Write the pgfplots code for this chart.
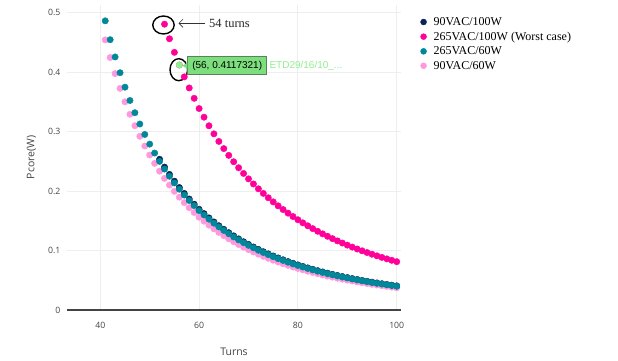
\documentclass[border=0pt]{standalone}
\usepackage{pgfplots}
\pgfplotsset{compat=1.18}
\usepackage{fontspec}
\usetikzlibrary{arrows.meta}
\newfontfamily\opensans{Open Sans}
\newfontfamily\lserif{Liberation Serif}
\newfontfamily\lsans{Liberation Sans}
\definecolor{navyc}{RGB}{11,36,85}
\definecolor{magc}{RGB}{255,0,153}
\definecolor{tealc}{RGB}{0,135,154}
\definecolor{lpinkc}{RGB}{255,153,221}
\definecolor{hoverg}{RGB}{144,238,144}
\definecolor{tipfill}{RGB}{125,222,125}
\definecolor{tipdraw}{RGB}{90,130,90}
\definecolor{tickgray}{RGB}{68,68,68}
\definecolor{gridc}{RGB}{238,238,238}
\begin{document}
\begin{tikzpicture}
\useasboundingbox (-67pt,-50pt) rectangle (551pt,310pt);
\begin{axis}[
  at={(0pt,0pt)}, anchor=south west,
  scale only axis, width=334pt, height=305pt,
  xmin=33.26, xmax=100.87, ymin=0, ymax=0.5126,
  xtick={40,60,80,100}, xticklabels={40,60,80,100},
  ytick={0,0.1,0.2,0.3,0.4,0.5}, yticklabels={0,0.1,0.2,0.3,0.4,0.5},
  major tick length=0pt,
  grid=major, major grid style={gridc, line width=0.9pt},
  axis line style={draw=none},
  tick label style={font=\opensans\fontsize{8.7}{10}\selectfont, text=tickgray},
  xticklabel style={yshift=-9pt},
  yticklabel style={xshift=-3pt},
  xlabel={Turns}, ylabel={Pcore(W)},
  label style={font=\opensans\fontsize{10.5}{12}\selectfont, text=tickgray},
  xlabel style={at={(axis description cs:0.5,-0.1377)}, anchor=center},
  ylabel style={at={(axis description cs:-0.1063,0.5)}, anchor=center},
  legend style={at={(axis description cs:1.058,0.967)}, anchor=north west,
    draw=none, fill=none, font=\lserif\fontsize{12}{14}\selectfont,
    inner sep=0pt, row sep=1pt, column sep=5pt, cells={anchor=west}},
  legend cell align=left,
  clip=false,
]
\draw[tickgray, line width=1.2pt] (rel axis cs:0,0) -- (rel axis cs:1,0);
% 90VAC/60W
\addplot[forget plot, only marks, mark=*, mark size=3.2pt, color=lpinkc] coordinates {
(41,0.45400)(42,0.42437)(43,0.39732)(44,0.37255)(45,0.34983)(46,0.32895)(47,0.30972)(48,0.29199)(49,0.27561)(50,0.26046)
(51,0.24641)(52,0.23337)(53,0.22125)(54,0.20996)(55,0.19945)(56,0.18963)(57,0.18047)(58,0.17189)(59,0.16386)(60,0.15595)
(61,0.14925)(62,0.14261)(63,0.13636)(64,0.13048)(65,0.12494)(66,0.11971)(67,0.11477)(68,0.11011)(69,0.10570)(70,0.10152)
(71,0.09757)(72,0.09382)(73,0.09027)(74,0.08690)(75,0.08369)(76,0.08064)(77,0.07775)(78,0.07499)(79,0.07236)(80,0.06986)
(81,0.06747)(82,0.06519)(83,0.06301)(84,0.06093)(85,0.05895)(86,0.05705)(87,0.05523)(88,0.05349)(89,0.05183)(90,0.05023)
(91,0.04870)(92,0.04723)(93,0.04582)(94,0.04447)(95,0.04317)(96,0.04193)(97,0.04073)(98,0.03957)(99,0.03847)(100,0.03740)};
% 90VAC/100W
\addplot[forget plot, only marks, mark=*, mark size=3.2pt, color=navyc] coordinates {
(52,0.25330)(53,0.24015)(54,0.22790)(55,0.21649)(56,0.20584)(57,0.19588)(58,0.18657)(59,0.17786)(60,0.16927)
(61,0.16200)(62,0.15479)(63,0.14801)(64,0.14163)(65,0.13561)(66,0.12994)(67,0.12458)(68,0.11952)(69,0.11473)(70,0.11020)
(71,0.10591)(72,0.10184)(73,0.09798)(74,0.09432)(75,0.09084)(76,0.08753)(77,0.08439)(78,0.08139)(79,0.07854)(80,0.07582)
(81,0.07323)(82,0.07076)(83,0.06840)(84,0.06614)(85,0.06399)(86,0.06192)(87,0.05995)(88,0.05806)(89,0.05625)(90,0.05452)
(91,0.05286)(92,0.05127)(93,0.04974)(94,0.04827)(95,0.04686)(96,0.04551)(97,0.04421)(98,0.04296)(99,0.04175)(100,0.04059)};
% 265VAC/60W
\addplot[forget plot, only marks, mark=*, mark size=3.2pt, color=tealc] coordinates {
(41,0.48600)(42,0.45429)(43,0.42532)(44,0.39880)(45,0.37448)(46,0.35213)(47,0.33155)(48,0.31257)(49,0.29504)(50,0.27881)
(51,0.26377)(52,0.24981)(53,0.23684)(54,0.22476)(55,0.21351)(56,0.20300)(57,0.19319)(58,0.18400)(59,0.17541)(60,0.16694)
(61,0.15977)(62,0.15266)(63,0.14597)(64,0.13968)(65,0.13374)(66,0.12815)(67,0.12286)(68,0.11787)(69,0.11315)(70,0.10868)
(71,0.10445)(72,0.10044)(73,0.09663)(74,0.09302)(75,0.08959)(76,0.08633)(77,0.08323)(78,0.08027)(79,0.07746)(80,0.07478)
(81,0.07222)(82,0.06978)(83,0.06745)(84,0.06523)(85,0.06310)(86,0.06107)(87,0.05913)(88,0.05726)(89,0.05548)(90,0.05377)
(91,0.05213)(92,0.05056)(93,0.04905)(94,0.04761)(95,0.04622)(96,0.04488)(97,0.04360)(98,0.04236)(99,0.04118)(100,0.04003)};
% 265VAC/100W
\addplot[forget plot, only marks, mark=*, mark size=3.2pt, color=magc] coordinates {
(53,0.48037)(54,0.45587)(55,0.43304)(56,0.41173)(57,0.39183)(58,0.37321)(59,0.35576)(60,0.33860)
(61,0.32406)(62,0.30964)(63,0.29607)(64,0.28330)(65,0.27126)(66,0.25991)(67,0.24919)(68,0.23907)(69,0.22949)(70,0.22043)
(71,0.21185)(72,0.20371)(73,0.19599)(74,0.18867)(75,0.18171)(76,0.17509)(77,0.16880)(78,0.16281)(79,0.15711)(80,0.15167)
(81,0.14648)(82,0.14154)(83,0.13681)(84,0.13230)(85,0.12799)(86,0.12386)(87,0.11992)(88,0.11614)(89,0.11253)(90,0.10906)
(91,0.10574)(92,0.10255)(93,0.09949)(94,0.09656)(95,0.09374)(96,0.09103)(97,0.08843)(98,0.08592)(99,0.08352)(100,0.08120)};
% hover point
\addplot[forget plot, only marks, mark=*, mark size=3.2pt, color=hoverg] coordinates {(56,0.4117321)};
\addlegendimage{only marks, mark=*, mark size=3pt, color=navyc}
\addlegendentry{90VAC/100W}
\addlegendimage{only marks, mark=*, mark size=3pt, color=magc}
\addlegendentry{265VAC/100W (Worst case)}
\addlegendimage{only marks, mark=*, mark size=3pt, color=tealc}
\addlegendentry{265VAC/60W}
\addlegendimage{only marks, mark=*, mark size=3pt, color=lpinkc}
\addlegendentry{90VAC/60W}
% annotations
\draw[black, line width=1.4pt] (axis cs:52.79,0.479) ellipse (10.7pt and 9pt);
\draw[black, line width=1.4pt] (axis cs:55.89,0.4039) ellipse (8.8pt and 11pt);
\draw[{Straight Barb[length=4pt,width=8pt]}-, line width=0.6pt, black!80] (axis cs:55.83,0.4818) -- (axis cs:61.19,0.4818);
\node[anchor=west, inner sep=0pt, font=\lserif\fontsize{12.5}{14}\selectfont, text=black!85] at (axis cs:62.0,0.4823) {54 turns};
\node[anchor=west, draw=tipdraw, fill=tipfill, line width=0.8pt, inner xsep=3pt, inner ysep=0pt, minimum height=18pt, minimum width=79pt, font=\lsans\fontsize{10}{12}\selectfont] (tip) at (axis cs:57.61,0.4106) {(56, 0.4117321)};
\fill[tipfill] ([yshift=3pt]tip.west) -- ++(-5pt,-3pt) -- ++(5pt,-3pt) -- cycle;
\node[anchor=west, inner sep=0pt, font=\lsans\fontsize{10}{12}\selectfont, text=hoverg] at (axis cs:74.21,0.4106) {ETD29/16/10\_...};
\end{axis}
\end{tikzpicture}
\end{document}
